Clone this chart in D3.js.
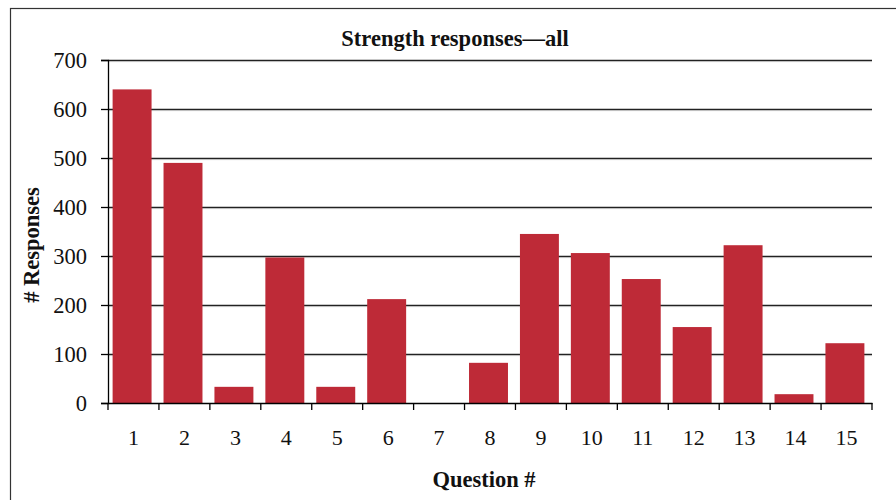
<!DOCTYPE html>
<html><head><meta charset="utf-8">
<script src="https://cdn.jsdelivr.net/npm/d3@7"></script>
<style>body{margin:0;background:#fff}svg{display:block}</style>
</head><body>
<svg id="c" width="896" height="500"></svg>
<script>
const categories = ["1","2","3","4","5","6","7","8","9","10","11","12","13","14","15"];
const responses = [640, 490, 33, 297, 33, 212, 0, 82, 345, 306, 253, 155, 322, 18, 122];
const yTicks = [0, 100, 200, 300, 400, 500, 600, 700];
const title = "Strength responses\u2014all";
const xTitle = "Question #";
const yTitle = "# Responses";

const svg = d3.select("#c");
const font = "'Liberation Serif', 'DejaVu Serif', serif";
const m = {left: 108, right: 872, top: 60, bottom: 403};

svg.append("rect").attr("x", 10.5).attr("y", 8.5).attr("width", 900).attr("height", 500)
  .attr("fill", "#fff").attr("stroke", "#333").attr("stroke-width", 1.2);

const x = d3.scaleBand().domain(categories).range([m.left, m.right]).paddingInner(0.235).paddingOuter(0.12);
const xBars = d3.scaleBand().domain(categories).range([m.left - 1.5, m.right - 1.5]).paddingInner(0.235).paddingOuter(0.12);
const y = d3.scaleLinear().domain([0, 700]).range([m.bottom, m.top]);

// gridlines
svg.append("g").selectAll("line").data(yTicks.filter(d => d > 0)).join("line")
  .attr("x1", m.left).attr("x2", m.right)
  .attr("y1", d => y(d) + 0.5).attr("y2", d => y(d) + 0.5)
  .attr("stroke", "#222").attr("stroke-width", 1.3);
svg.append("g").selectAll("line").data(yTicks.filter(d => d > 0)).join("line")
  .attr("x1", m.left).attr("x2", m.right)
  .attr("y1", d => y(d) + 1.6).attr("y2", d => y(d) + 1.6)
  .attr("stroke", "#bbb").attr("stroke-width", 0.8);

// bars
svg.append("g").selectAll("rect").data(responses).join("rect")
  .attr("x", (d, i) => xBars(categories[i]))
  .attr("width", xBars.bandwidth())
  .attr("y", d => y(d))
  .attr("height", d => y(0) - y(d))
  .attr("fill", "#be2a37");

// y axis
const yAxis = svg.append("g").attr("transform", `translate(${m.left},0)`)
  .call(d3.axisLeft(y).tickValues(yTicks).tickSize(7).tickPadding(14).tickFormat(d3.format("d")));
yAxis.select(".domain").attr("stroke", "#000").attr("stroke-width", 1.3);
yAxis.selectAll(".tick line").attr("stroke", "#000").attr("stroke-width", 1.3);
yAxis.selectAll("text").attr("font-family", font).attr("font-size", 22.5).attr("fill", "#111");

// x axis
const xAxis = svg.append("g").attr("transform", `translate(0,${m.bottom})`)
  .call(d3.axisBottom(x).tickSize(0).tickPadding(26));
xAxis.select(".domain").attr("stroke", "#000").attr("stroke-width", 1.3);
xAxis.selectAll("text").attr("font-family", font).attr("font-size", 22).attr("fill", "#111");
const boundaries = d3.range(categories.length + 1).map(i => m.left + i * (m.right - m.left) / categories.length);
svg.append("g").selectAll("line").data(boundaries).join("line")
  .attr("x1", d => d).attr("x2", d => d)
  .attr("y1", m.bottom).attr("y2", m.bottom + 7)
  .attr("stroke", "#000").attr("stroke-width", 1.3);

// titles
svg.append("text").attr("x", 455).attr("y", 46).attr("text-anchor", "middle")
  .attr("font-family", font).attr("font-weight", "bold").attr("font-size", 22.5).attr("fill", "#111")
  .text(title);
svg.append("text").attr("x", 484).attr("y", 487).attr("text-anchor", "middle")
  .attr("font-family", font).attr("font-weight", "bold").attr("font-size", 22.5).attr("fill", "#111")
  .text(xTitle);
svg.append("text").attr("transform", "translate(39,245) rotate(-90)").attr("text-anchor", "middle")
  .attr("font-family", font).attr("font-weight", "bold").attr("font-size", 22.5).attr("fill", "#111")
  .text(yTitle);
</script>
</body></html>
